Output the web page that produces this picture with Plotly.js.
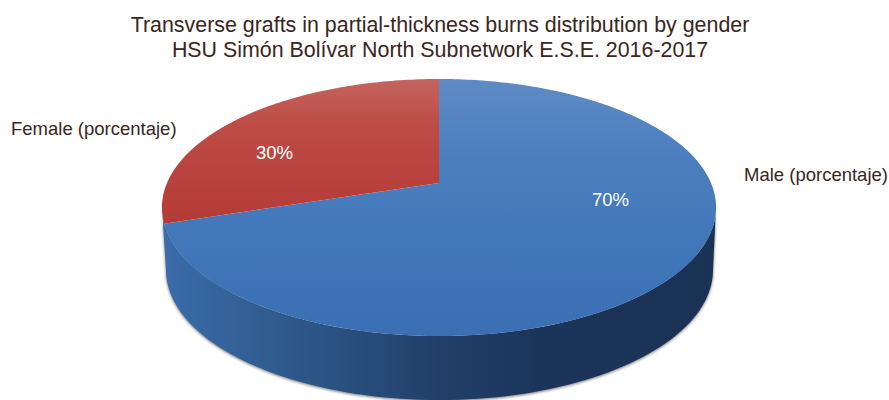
<!DOCTYPE html>
<html>
<head>
<meta charset="utf-8">
<script src="https://cdn.plot.ly/plotly-3.0.1.min.js"></script>
<style>html,body{margin:0;padding:0;background:#fff;overflow:hidden}#chart{width:889px;height:400px}</style>
</head>
<body>
<div id="chart"></div>
<script>
// Data
const categories = ["Male (porcentaje)", "Female (porcentaje)"];
const values = [70, 30];
const colors = ["#4479bb", "#bc4440"];
const titleLines = ["Transverse grafts in partial-thickness burns distribution by gender",
                    "HSU Simón Bolívar North Subnetwork E.S.E. 2016-2017"];

// Perspective view of the disc, in page pixels
const W = 889, H = 400;
const view = {cx: 439, apexY: 183, topY: 79, botY: 336, halfW: 272};
const wall = {cx: 439.5, cy: 270, rx: 273.5, ry: 130};
const rim = {cx: 439, cy: 207.5, rx: 277, ry: 128.5};
// projective map of the unit circle: y = (a v + b) / (1 + K v)
const K = (view.topY + view.botY - view.apexY * 2) / (view.botY - view.topY);
const A = view.topY * (1 + K) - view.apexY;
function project(u, v) {
  const d = 1 + K * v;
  return [view.cx + view.halfW * u / d, (A * v + view.apexY) / d];
}
function slicePath(f0, f1) {
  const n = Math.max(2, Math.round((f1 - f0) * 360));
  const p = ["M" + project(0, 0).join(",")];
  for (let i = 0; i <= n; i++) {
    const t = (f0 + (f1 - f0) * i / n) * 2 * Math.PI;
    p.push("L" + project(Math.sin(t), Math.cos(t)).join(","));
  }
  return p.join("") + "Z";
}
function px(x) { return x / W; }
function py(y) { return 1 - y / H; }
function wallPath() {
  const p = [];
  for (let a = 180; a >= 0; a -= 2) {
    const r = a * Math.PI / 180;
    p.push((p.length ? "L" : "M") + px(rim.cx + rim.rx * Math.cos(r)) + "," + py(rim.cy + rim.ry * Math.sin(r)));
  }
  for (let a = 0; a <= 180; a += 2) {
    const r = a * Math.PI / 180;
    p.push("L" + px(wall.cx + wall.rx * Math.cos(r)) + "," + py(wall.cy + wall.ry * Math.sin(r)));
  }
  return p.join("") + "Z";
}
const textColor = "#3a2620";
const fontFamily = "Liberation Sans, Arial, sans-serif";

const trace = {
  type: "pie", labels: categories, values: values, sort: false, direction: "clockwise", rotation: 0,
  marker: {colors: colors, line: {width: 0}}, textinfo: "none", hoverinfo: "skip",
  domain: {x: [0.2, 0.8], y: [0.1, 0.8]}
};
const layout = {
  width: W, height: H, margin: {l: 0, r: 0, t: 0, b: 0}, showlegend: false,
  paper_bgcolor: "#fff", plot_bgcolor: "#fff",
  title: {text: titleLines.join("<br>"), font: {family: fontFamily, size: 21.4, color: textColor},
          x: 440 / W, xanchor: "center", y: 1 - 32 / H, yanchor: "top"},
  shapes: [{type: "path", layer: "below", xref: "paper", yref: "paper", path: wallPath(),
            fillcolor: "#234470", line: {width: 0}}],
  annotations: [
    {text: categories[1], x: 9 / W, y: py(128), xanchor: "left", yanchor: "middle"},
    {text: categories[0], x: 742 / W, y: py(174), xanchor: "left", yanchor: "middle"},
    {text: values[1] + "%", x: 274.5 / W, y: py(152), xanchor: "center", yanchor: "middle", white: true},
    {text: values[0] + "%", x: 610.5 / W, y: py(199), xanchor: "center", yanchor: "middle", white: true}
  ].map(a => ({xref: "paper", yref: "paper", showarrow: false, text: a.text, x: a.x, y: a.y,
               xanchor: a.xanchor, yanchor: a.yanchor,
               font: {family: fontFamily, size: 18.5, color: a.white ? "#ffffff" : textColor}}))
};

function gradient(defs, id, x1, y1, x2, y2, stops) {
  const ns = "http://www.w3.org/2000/svg";
  const g = document.createElementNS(ns, "linearGradient");
  g.setAttribute("id", id);
  g.setAttribute("gradientUnits", "userSpaceOnUse");
  [["x1", x1], ["y1", y1], ["x2", x2], ["y2", y2]].forEach(([n, v]) => g.setAttribute(n, v));
  stops.forEach(([o, c]) => {
    const s = document.createElementNS(ns, "stop");
    s.setAttribute("offset", o); s.setAttribute("stop-color", c); g.appendChild(s);
  });
  defs.appendChild(g);
}

Plotly.newPlot("chart", [trace], layout, {displayModeBar: false, staticPlot: true}).then(gd => {
  const svg = gd.querySelector(".main-svg");
  const ns = "http://www.w3.org/2000/svg";
  const defs = document.createElementNS(ns, "defs");
  svg.insertBefore(defs, svg.firstChild);
  gradient(defs, "gBlue", 0, view.topY, 0, view.botY,
    [[0, "#5f8bc4"], [0.25, "#4f80c0"], [0.6, "#4178ba"], [1, "#3a70b3"]]);
  gradient(defs, "gRed", 0, view.topY, 0, 225,
    [[0, "#c4655f"], [0.3, "#bd4c47"], [1, "#b53a36"]]);
  gradient(defs, "gWall", 165, 0, 713, 0,
    [[0, "#3a6ca9"], [0.25, "#2d5788"], [0.5, "#213f69"], [0.7, "#1b3459"], [1, "#1a3254"]]);
  const total = values.reduce((a, b) => a + b, 0);
  let f = 0;
  gd.querySelectorAll(".pielayer .slice path.surface").forEach((path, i) => {
    const f1 = f + values[i] / total;
    const m = path.getCTM();
    path.setAttribute("d", slicePath(f, f1));
    path.setAttribute("transform", "translate(" + (-m.e) + "," + (-m.f) + ")");
    path.style.fill = "url(#" + (i === 0 ? "gBlue" : "gRed") + ")";
    f = f1;
  });
  const w = gd.querySelector(".shapelayer path");
  if (w) {
    w.style.fill = "url(#gWall)";
    w.style.filter = "drop-shadow(0 1px 1.5px rgba(20,20,20,.6))";
  }
  // the reference's title lines sit 25px apart
  const lines = gd.querySelectorAll(".gtitle tspan.line");
  if (lines.length === 2) {
    lines[1].setAttribute("dy", "25px");
  }
});
</script>
</body>
</html>
